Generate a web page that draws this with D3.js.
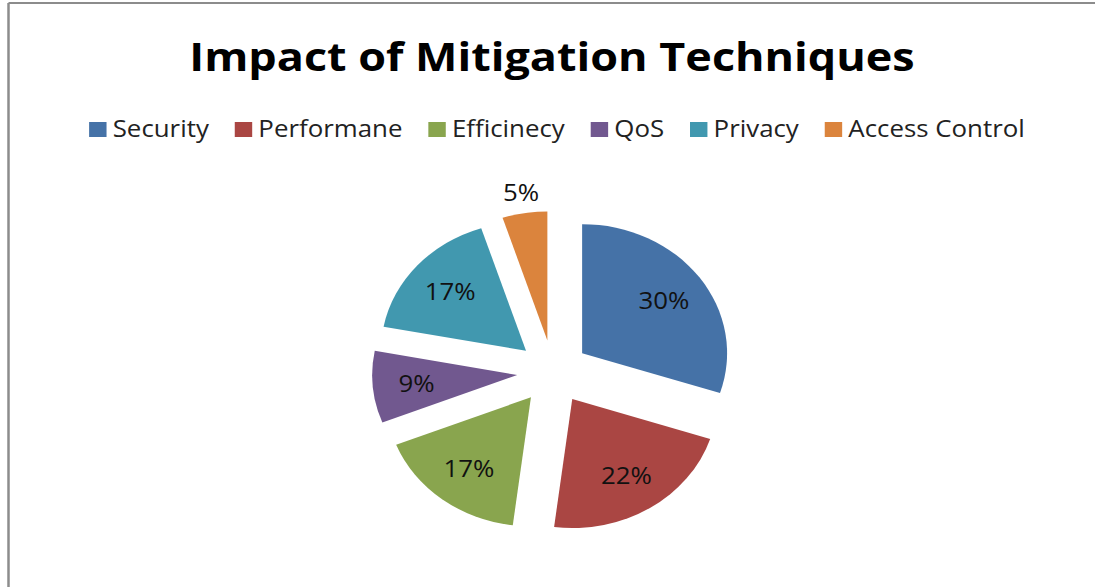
<!DOCTYPE html>
<html>
<head>
<meta charset="utf-8">
<script src="https://cdn.jsdelivr.net/npm/d3@7"></script>
<style>
  body { margin: 0; background: #fff; }
  text { font-family: "Open Sans", Lato, sans-serif; font-variant-ligatures: none; }
</style>
</head>
<body>
<svg id="chart" width="1095" height="587"></svg>
<script>
const categories = ["Security", "Performane", "Efficinecy", "QoS", "Privacy", "Access Control"];
const values = [30, 22, 17, 9, 17, 5];
const colors = ["#4572A7", "#AA4643", "#89A54E", "#71588F", "#4198AF", "#DB843D"];
const title = "Impact of Mitigation Techniques";

const svg = d3.select("#chart");
const width = 1095;
// the whole picture is a bit wider than tall, so stretch horizontally
const sx = 145 / 129;

// frame (only top and left edges are visible in the picture)
svg.append("line").attr("x1", 8.5).attr("y1", 3).attr("x2", width).attr("y2", 3)
    .attr("stroke", "#8c8c8c").attr("stroke-width", 2);
svg.append("line").attr("x1", 8.5).attr("y1", 3).attr("x2", 8.5).attr("y2", 587)
    .attr("stroke", "#8c8c8c").attr("stroke-width", 2.5);

svg.append("text")
    .attr("transform", `translate(552,71) scale(${sx},1)`)
    .attr("text-anchor", "middle")
    .style("font-size", "40px")
    .style("font-weight", "bold")
    .attr("fill", "#000")
    .text(title);

// legend
const legend = svg.append("g").attr("class", "legend");
const items = legend.selectAll("g").data(categories).join("g");
items.append("rect")
    .attr("width", 15.5).attr("height", 15)
    .attr("y", -15)
    .attr("fill", (d, i) => colors[i]);
items.append("text")
    .attr("x", 21).attr("y", 0)
    .style("font-size", "23px")
    .attr("fill", "#222")
    .text(d => d);

let lx = 0;
items.each(function() {
    const g = d3.select(this);
    g.attr("transform", `translate(${lx},0)`);
    lx += 21 + g.select("text").node().getComputedTextLength() + 23;
});
const legendW = (lx - 23) * sx;
legend.attr("transform", `translate(${557 - legendW / 2},137) scale(${sx},1)`);

// exploded pie
const cx = 553, cy = 372;
const r = 129, explode = 32;

const pie = d3.pie().sort(null).value(d => d);
const arcs = pie(values);
const arc = d3.arc().innerRadius(0).outerRadius(r);
const total = d3.sum(values);

const pieG = svg.append("g").attr("transform", `translate(${cx},${cy}) scale(${sx},1)`);
pieG.selectAll("path")
    .data(arcs)
    .join("path")
    .attr("d", arc)
    .attr("fill", (d, i) => colors[i])
    .attr("transform", d => {
        const m = (d.startAngle + d.endAngle) / 2;
        return `translate(${explode * Math.sin(m)},${-explode * Math.cos(m)})`;
    });

svg.append("g").selectAll("text")
    .data(arcs)
    .join("text")
    .attr("text-anchor", "middle")
    .attr("dominant-baseline", "central")
    .style("font-size", "23px")
    .attr("fill", "#111")
    .attr("transform", d => {
        const m = (d.startAngle + d.endAngle) / 2;
        const rl = explode + (d.value / total < 0.06 ? 150 : 90);
        return `translate(${cx + sx * rl * Math.sin(m)},${cy - rl * Math.cos(m)}) scale(${sx},1)`;
    })
    .text(d => Math.round(d.value / total * 100) + "%");
</script>
</body>
</html>
